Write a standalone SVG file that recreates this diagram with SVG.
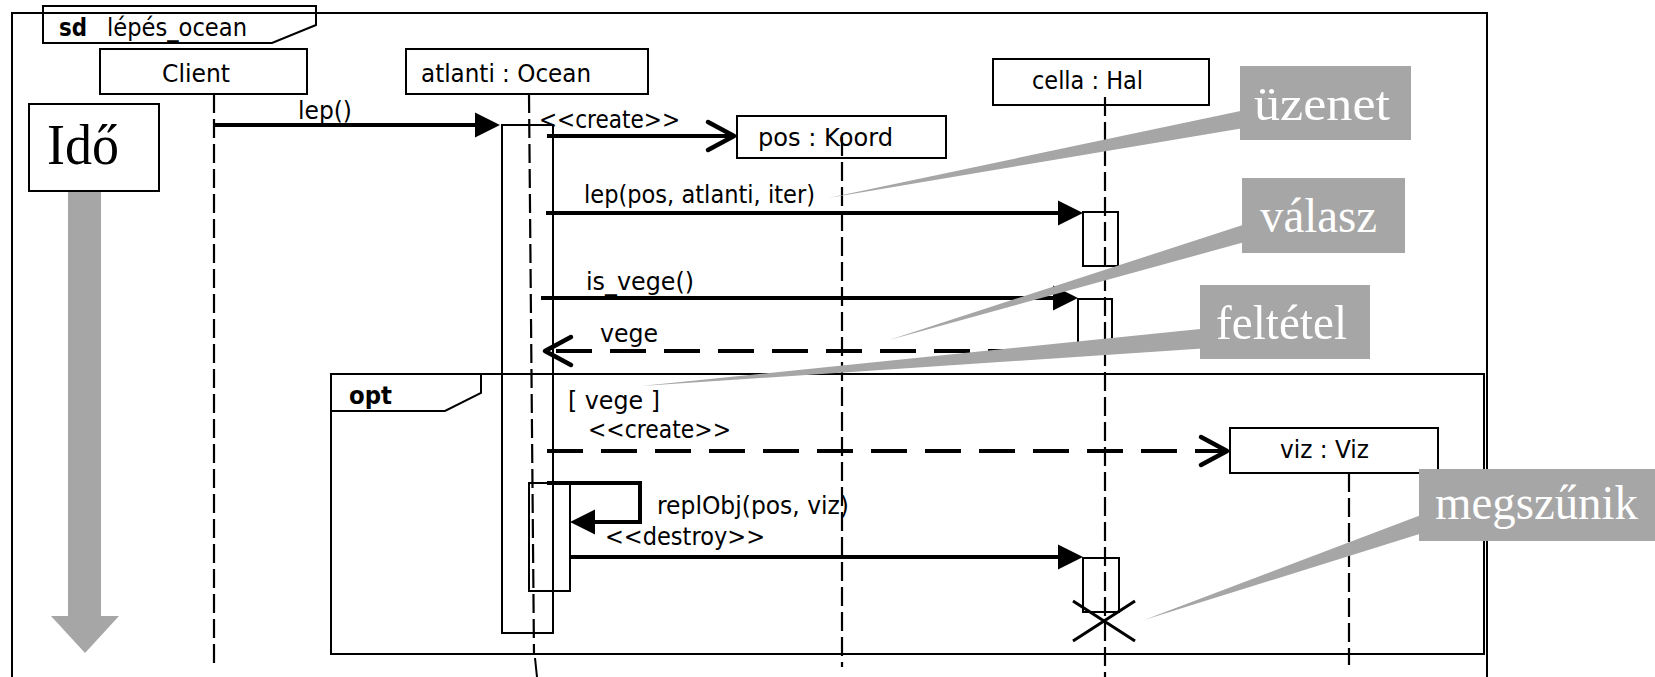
<svg xmlns="http://www.w3.org/2000/svg" width="1655" height="677" viewBox="0 0 1655 677">
<defs>
<style>
.box{fill:none;stroke:#000;stroke-width:2}
.life{fill:none;stroke:#000;stroke-width:2.2;stroke-dasharray:19 6}
.msg{fill:none;stroke:#000;stroke-width:4}
.dash{stroke-dasharray:36 18}
.lbl{font-family:"DejaVu Sans","Liberation Sans",sans-serif;font-size:25px;fill:#000}
.bold{font-weight:bold}
.gray{fill:#a6a6a6;stroke:none}
.ctext{font-family:"Liberation Serif","Times New Roman",serif;font-size:49px;fill:#fff}
</style>
<marker id="filled" markerUnits="userSpaceOnUse" markerWidth="26" markerHeight="26" refX="5" refY="12.5" orient="auto" overflow="visible">
<path d="M0,0 L25,12.5 L0,25 Z" fill="#000" stroke="none"/>
</marker>
<marker id="open" markerUnits="userSpaceOnUse" markerWidth="30" markerHeight="30" refX="26" refY="14" orient="auto" overflow="visible">
<path d="M0,0 L26,14 L0,28" fill="none" stroke="#000" stroke-width="4.5" stroke-linecap="round" stroke-linejoin="round" stroke-dasharray="none"/>
</marker>
</defs>
<rect width="1655" height="677" fill="#fff"/>

<g id="frame">
<path class="box" d="M12,690 V13 H1487 V690"/>
<path class="box" d="M43,6 H316 V25 L272,43 H43 Z"/>
<text class="lbl bold" x="59" y="36" font-size="23" textLength="28" lengthAdjust="spacingAndGlyphs">sd</text>
<text class="lbl" x="107" y="36" font-size="23" textLength="140" lengthAdjust="spacingAndGlyphs">lépés_ocean</text>
</g>

<g id="opt">
<rect class="box" x="331" y="374" width="1153" height="280"/>
<path class="box" d="M331,411 H445 L481,393 V374"/>
<text class="lbl bold" x="349" y="404" font-size="24" textLength="43" lengthAdjust="spacingAndGlyphs">opt</text>
</g>

<g id="time">
<rect class="box" x="29" y="104" width="130" height="87"/>
<text x="47" y="164" font-family="'Liberation Serif','Times New Roman',serif" font-size="58" textLength="72" lengthAdjust="spacingAndGlyphs">Idő</text>
<polygon class="gray" points="68,192 101,192 101,616 119,616 85,653 51,616 68,616"/>
</g>

<g id="client">
<rect class="box" x="100" y="49" width="207" height="45"/>
<text class="lbl" x="162" y="82" textLength="68" lengthAdjust="spacingAndGlyphs">Client</text>
<line class="life" x1="214" y1="94" x2="214" y2="667"/>
</g>

<g id="atlanti">
<rect class="box" x="406" y="49" width="242" height="45"/>
<text class="lbl" x="421" y="82" textLength="170" lengthAdjust="spacingAndGlyphs">atlanti : Ocean</text>
<line class="life" x1="529" y1="94" x2="534" y2="655"/>
<line stroke="#000" stroke-width="2" x1="535" y1="658" x2="537" y2="677"/>
<rect class="box" x="502" y="125" width="51" height="508"/>
<rect class="box" x="529" y="483" width="41" height="108"/>
</g>

<g id="pos">
<rect class="box" x="737" y="116" width="209" height="42"/>
<text class="lbl" x="758" y="146" textLength="135" lengthAdjust="spacingAndGlyphs">pos : Koord</text>
<line class="life" x1="842" y1="137" x2="842" y2="667"/>
</g>

<g id="cella">
<rect class="box" x="993" y="59" width="216" height="46"/>
<text class="lbl" x="1032" y="89" textLength="111" lengthAdjust="spacingAndGlyphs">cella : Hal</text>
<line class="life" x1="1105" y1="97" x2="1105" y2="677"/>
<rect class="box" x="1083" y="212" width="35" height="54"/>
<rect class="box" x="1078" y="299" width="34" height="53"/>
<rect class="box" x="1083" y="558" width="36" height="54"/>
<path stroke="#000" stroke-width="3" fill="none" d="M1073,601 L1135,641 M1135,601 L1073,641"/>
</g>

<g id="viz">
<rect class="box" x="1230" y="428" width="208" height="45"/>
<text class="lbl" x="1280" y="458" textLength="89" lengthAdjust="spacingAndGlyphs">viz : Viz</text>
<line class="life" x1="1349" y1="473" x2="1349" y2="665"/>
</g>

<g id="connectors">
<line class="msg" x1="214" y1="125" x2="480" y2="125" marker-end="url(#filled)"/>
<text class="lbl" x="298" y="119" textLength="54" lengthAdjust="spacingAndGlyphs">lep()</text>

<line class="msg" x1="547" y1="136" x2="734" y2="136" marker-end="url(#open)"/>
<text class="lbl" x="539" y="128" textLength="141" lengthAdjust="spacingAndGlyphs">&lt;&lt;create&gt;&gt;</text>

<line class="msg" x1="546" y1="213" x2="1063" y2="213" marker-end="url(#filled)"/>
<text class="lbl" x="584" y="203" textLength="231" lengthAdjust="spacingAndGlyphs">lep(pos, atlanti, iter)</text>

<line class="msg" x1="541" y1="298" x2="1058" y2="298" marker-end="url(#filled)"/>
<text class="lbl" x="586" y="290" textLength="108" lengthAdjust="spacingAndGlyphs">is_vege()</text>

<line class="msg dash" x1="1078" y1="351" x2="545" y2="351" marker-end="url(#open)"/>
<text class="lbl" x="600" y="342" textLength="58" lengthAdjust="spacingAndGlyphs">vege</text>

<text class="lbl" x="568" y="409" textLength="92" lengthAdjust="spacingAndGlyphs">[ vege ]</text>
<text class="lbl" x="588" y="438" textLength="143" lengthAdjust="spacingAndGlyphs">&lt;&lt;create&gt;&gt;</text>
<line class="msg dash" x1="547" y1="451" x2="1227" y2="451" marker-end="url(#open)"/>

<path class="msg" d="M547,483 H640 V522 H590" marker-end="url(#filled)"/>
<text class="lbl" x="657" y="514" textLength="192" lengthAdjust="spacingAndGlyphs">replObj(pos, viz)</text>

<text class="lbl" x="605" y="545" textLength="160" lengthAdjust="spacingAndGlyphs">&lt;&lt;destroy&gt;&gt;</text>
<line class="msg" x1="569" y1="557" x2="1063" y2="557" marker-end="url(#filled)"/>
</g>

<g id="callout-uzenet">
<polygon class="gray" points="828,198 1250,109 1250,127"/>
<rect class="gray" x="1240" y="66" width="171" height="74"/>
<text class="ctext" x="1254" y="120" textLength="136" lengthAdjust="spacingAndGlyphs">üzenet</text>
</g>
<g id="callout-valasz">
<polygon class="gray" points="889,340 1252,222 1252,240"/>
<rect class="gray" x="1242" y="178" width="163" height="75"/>
<text class="ctext" x="1260" y="232" textLength="117" lengthAdjust="spacingAndGlyphs">válasz</text>
</g>
<g id="callout-feltetel">
<polygon class="gray" points="641,386 1210,328 1210,348"/>
<rect class="gray" x="1200" y="285" width="170" height="74"/>
<text class="ctext" x="1216" y="339" textLength="131" lengthAdjust="spacingAndGlyphs">feltétel</text>
</g>
<g id="callout-megszunik">
<polygon class="gray" points="1144,620 1429,512 1429,531"/>
<rect class="gray" x="1419" y="469" width="236" height="72"/>
<text class="ctext" x="1435" y="519" textLength="203" lengthAdjust="spacingAndGlyphs">megszűnik</text>
</g>
</svg>
